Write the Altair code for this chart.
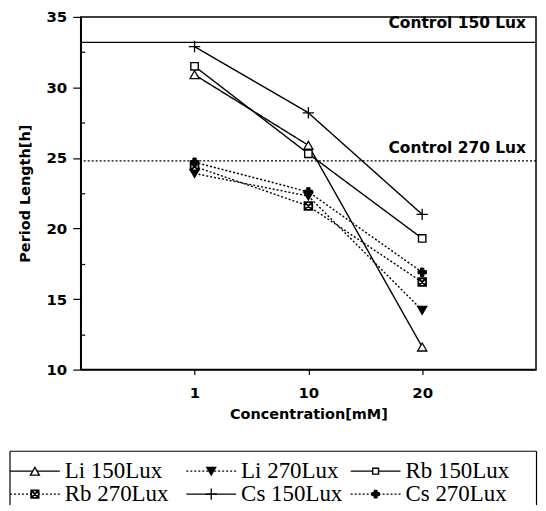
import altair as alt
import pandas as pd

# ---------------- data ----------------
concentrations = ["1", "10", "20"]
series_names = ["Li 150Lux", "Li 270Lux", "Rb 150Lux", "Rb 270Lux", "Cs 150Lux", "Cs 270Lux"]
li_150 = [30.9, 25.9, 11.6]
li_270 = [23.9, 22.3, 14.2]
rb_150 = [31.5, 25.3, 19.3]
rb_270 = [24.4, 21.6, 16.2]
cs_150 = [32.9, 28.2, 21.0]
cs_270 = [24.7, 22.6, 16.9]
series_values = [li_150, li_270, rb_150, rb_270, cs_150, cs_270]

control_labels = ["Control 150 Lux", "Control 270 Lux"]
control_values = [33.2, 24.8]
y_ticks = [10, 12.5, 15, 17.5, 20, 22.5, 25, 27.5, 30, 32.5, 35]
x_title = "Concentration[mM]"
y_title = "Period Length[h]"

# ---------------- styles / layout ----------------
PLOT_W, PLOT_H = 457, 354
LEG_H = 54
AXIS_FONT = "DejaVu Sans"
LEGEND_FONT = "Liberation Serif"
SOLID = [1, 0]
DOT = [2, 2]
LEG_DASH = [5, 3]
PLUS_THIN = "M-1,0H1M0,-1V1"
BOX_X = "M-1,-1H1V1H-1ZM-1,-1L1,1M1,-1L-1,1"

styles = {
    "Li 150Lux": dict(shape="triangle-up", fill="white", size=85, lsize=80, sw=1.3, dash=SOLID),
    "Li 270Lux": dict(shape="triangle-down", fill="black", size=85, lsize=80, sw=1.3, dash=DOT),
    "Rb 150Lux": dict(shape="square", fill="white", size=55, lsize=35, sw=1.4, dash=SOLID),
    "Rb 270Lux": dict(shape=BOX_X, fill="white", size=60, lsize=55, sw=1.8, dash=DOT),
    "Cs 150Lux": dict(shape=PLUS_THIN, fill="transparent", size=130, lsize=130, sw=1.3, dash=SOLID),
    "Cs 270Lux": dict(shape="cross", fill="black", size=70, lsize=60, sw=1.0, dash=DOT),
}

rows = []
for name, vals in zip(series_names, series_values):
    for c, v in zip(concentrations, vals):
        rows.append({"series": name, "conc": c, "period": v})
df = pd.DataFrame(rows)

ctrl_df = pd.DataFrame({"label": control_labels, "period": control_values})

x_enc = alt.X(
    "conc:N",
    scale=alt.Scale(type="point", domain=concentrations, padding=1),
    axis=alt.Axis(
        title=x_title, labelAngle=0, labelFont=AXIS_FONT, labelFontSize=15,
        labelFontWeight="bold", labelColor="black", titleFont=AXIS_FONT,
        titleFontSize=14.5, titleFontWeight="bold", titleColor="black",
        tickSize=5, tickColor="black", tickWidth=1.2, labelPadding=11,
        titlePadding=7, domainColor="black", domainWidth=1.5, grid=False,
    ),
)
y_enc = alt.Y(
    "period:Q",
    scale=alt.Scale(domain=[10, 35], nice=False, zero=False),
    axis=alt.Axis(
        title=y_title, values=y_ticks,
        labelExpr="datum.value % 5 == 0 ? datum.label : ''",
        tickSize={"expr": "datum.value % 5 == 0 ? 8 : -4"},
        labelFont=AXIS_FONT, labelFontSize=15, labelFontWeight="bold",
        labelColor="black", titleFont=AXIS_FONT, titleFontSize=14.5,
        titleFontWeight="bold", titleColor="black", tickColor="black",
        tickWidth=1.2, labelPadding=6, titlePadding=14, domainColor="black",
        domainWidth=1.5, grid=False,
    ),
)

base = alt.Chart(df)

lines = base.mark_line(color="black", strokeWidth=1.4).encode(
    x=x_enc,
    y=y_enc,
    detail="series:N",
    strokeDash=alt.StrokeDash(
        "series:N",
        scale=alt.Scale(domain=series_names, range=[styles[s]["dash"] for s in series_names]),
        legend=None,
    ),
)

point_layers = []
for s in series_names:
    st = styles[s]
    point_layers.append(
        base.transform_filter(alt.datum.series == s)
        .mark_point(shape=st["shape"], size=st["size"], fill=st["fill"], stroke="black",
                    strokeWidth=st["sw"], opacity=1, filled=True)
        .encode(x=x_enc, y=y_enc)
    )

ctrl_rules = alt.Chart(ctrl_df).mark_rule(color="black", strokeWidth=1.3).encode(
    y=y_enc,
    strokeDash=alt.StrokeDash(
        "label:N", scale=alt.Scale(domain=control_labels, range=[SOLID, DOT]), legend=None
    ),
)

ctrl_dy = [-14, -7.5]
ctrl_texts = []
for lab, dy in zip(control_labels, ctrl_dy):
    ctrl_texts.append(
        alt.Chart(ctrl_df).transform_filter(alt.datum.label == lab)
        .mark_text(align="right", baseline="alphabetic", dy=dy, font=AXIS_FONT,
                   fontSize=15.5, fontWeight="bold", color="black")
        .encode(x=alt.value(PLOT_W - 10), y=y_enc, text="label:N")
    )

top = alt.layer(ctrl_rules, lines, *point_layers, *ctrl_texts).properties(
    width=PLOT_W, height=PLOT_H,
    view=alt.ViewBackground(stroke="black", strokeWidth=1.5),
)

# ---------------- legend (drawn as its own panel) ----------------
COL_X = [-71, 106, 271]
ROW_Y = [20, 43]
SAMPLE_L = 50
BOX_L, BOX_R = -71, PLOT_W + 0.5

leg_rows = []
for i, s in enumerate(series_names):
    x0 = COL_X[i % 3]
    leg_rows.append({
        "series": s, "x0": x0, "x1": x0 + SAMPLE_L, "xm": x0 + SAMPLE_L / 2,
        "xt": x0 + SAMPLE_L + 5, "y": ROW_Y[i // 3],
    })
leg_df = pd.DataFrame(leg_rows)

lx = alt.Scale(domain=[0, PLOT_W], nice=False, zero=False)
ly = alt.Scale(domain=[0, LEG_H], reverse=True, nice=False, zero=False)

box_df = pd.DataFrame({
    "x0": [BOX_L, BOX_L, BOX_R],
    "x1": [BOX_R, BOX_L, BOX_R],
    "y": [0, 0, 0],
    "y1": [0, LEG_H, LEG_H],
})
box = alt.Chart(box_df).mark_rule(color="black", strokeWidth=1.2).encode(
    x=alt.X("x0:Q", scale=lx, axis=None), x2="x1:Q",
    y=alt.Y("y:Q", scale=ly, axis=None), y2="y1:Q",
)

leg_base = alt.Chart(leg_df)
leg_lines = leg_base.mark_rule(color="black", strokeWidth=1.3).encode(
    x=alt.X("x0:Q", scale=lx, axis=None), x2="x1:Q",
    y=alt.Y("y:Q", scale=ly, axis=None),
    strokeDash=alt.StrokeDash(
        "series:N",
        scale=alt.Scale(domain=series_names,
                        range=[SOLID if styles[s]["dash"] == SOLID else LEG_DASH for s in series_names]),
        legend=None,
    ),
)
leg_points = []
for s in series_names:
    st = styles[s]
    leg_points.append(
        leg_base.transform_filter(alt.datum.series == s)
        .mark_point(shape=st["shape"], size=st["lsize"], fill=st["fill"], stroke="black",
                    strokeWidth=st["sw"], opacity=1, filled=True)
        .encode(x=alt.X("xm:Q", scale=lx, axis=None), y=alt.Y("y:Q", scale=ly, axis=None))
    )
leg_text = leg_base.mark_text(align="left", baseline="middle", font=LEGEND_FONT,
                              fontSize=23, color="black").encode(
    x=alt.X("xt:Q", scale=lx, axis=None), y=alt.Y("y:Q", scale=ly, axis=None), text="series:N"
)

legend = alt.layer(box, leg_lines, *leg_points, leg_text).properties(
    width=PLOT_W, height=LEG_H,
    view=alt.ViewBackground(stroke="transparent"),
)

chart = alt.vconcat(top, legend, spacing=27).properties(padding=0).configure(background="white")

chart.save("out.html", embed_options={"renderer": "svg", "actions": False})
